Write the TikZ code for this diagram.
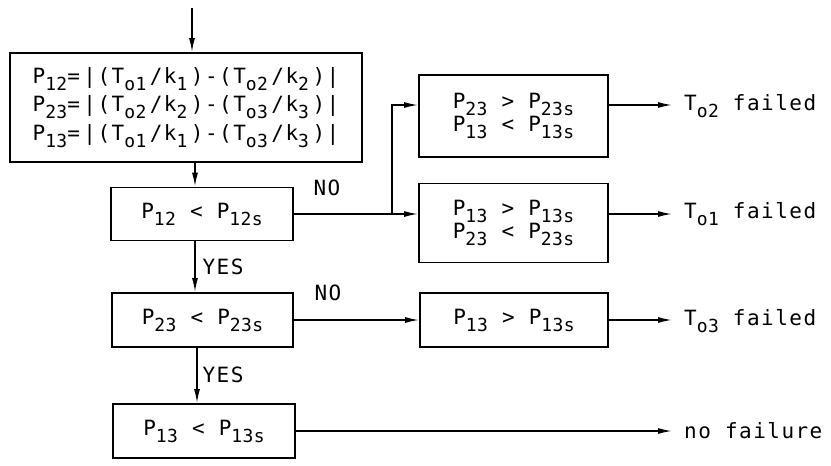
\documentclass[tikz,border=0pt]{standalone}
\usepackage{fontspec}
\setmainfont{DejaVu Sans Mono}[LetterSpace=7]
\newfontfamily\subfont{DejaVu Sans Mono}[LetterSpace=2]
\usetikzlibrary{arrows.meta,calc}
\newcommand\sbs[1]{\raisebox{-7pt}{\subfont\fontsize{18}{18}\selectfont #1}}
\begin{document}
\begin{tikzpicture}[x=1pt,y=-1pt,
  box/.style={draw,line width=1.9pt,inner sep=0pt,font=\fontsize{21}{22}\selectfont},
  lbl/.style={inner sep=0pt,font=\fontsize{21}{22}\selectfont},
  arr/.style={line width=1.5pt,-{Latex[length=14pt,width=6pt]}}]
\useasboundingbox (0,0) rectangle (831,466);
% boxes
\node[box,minimum width=352pt,minimum height=109pt,align=left] (b1) at (186,107.5)
 {P\sbs{12}=\,|(T\sbs{o1}\,/k\sbs{1}\,)-(T\sbs{o2}\,/k\sbs{2}\,)|\\[4pt]
  P\sbs{23}=\,|(T\sbs{o2}\,/k\sbs{2}\,)-(T\sbs{o3}\,/k\sbs{3}\,)|\\[4pt]
  P\sbs{13}=\,|(T\sbs{o1}\,/k\sbs{1}\,)-(T\sbs{o3}\,/k\sbs{3}\,)|};
\node[box,minimum width=182pt,minimum height=53pt] (b2) at (202,214) {P\sbs{12} < P\sbs{12s}};
\node[box,minimum width=181pt,minimum height=54pt] (b3) at (202.5,320) {P\sbs{23} < P\sbs{23s}};
\node[box,minimum width=182pt,minimum height=54pt] (b4) at (204,431) {P\sbs{13} < P\sbs{13s}};
\node[box,minimum width=189pt,minimum height=82pt,align=center] (b5) at (513.5,116)
 {P\sbs{23} > P\sbs{23s}\\P\sbs{13} < P\sbs{13s}};
\node[box,minimum width=189pt,minimum height=79pt,align=center] (b6) at (513.5,223)
 {P\sbs{13} > P\sbs{13s}\\P\sbs{23} < P\sbs{23s}};
\node[box,minimum width=188pt,minimum height=54pt] (b7) at (514,320) {P\sbs{13} > P\sbs{13s}};
% outcome labels
\node[lbl,anchor=west] (t5) at (684,106) {T\sbs{o2} failed};
\node[lbl,anchor=west] (t6) at (684,214) {T\sbs{o1} failed};
\node[lbl,anchor=west] (t7) at (684,321) {T\sbs{o3} failed};
\node[lbl,anchor=west] (t4) at (684,431) {no failure};
% branch labels
\node[lbl] (no1) at (327,188) {NO};
\node[lbl] (no2) at (328,293) {NO};
\node[lbl] (yes1) at (223,267) {YES};
\node[lbl] (yes2) at (223,375) {YES};
% helper coordinates
\coordinate (top) at (192,8);
\coordinate (vx) at (195,0);
\coordinate (vy) at (197,0);
\coordinate (j) at (392,0);
\coordinate (fx) at (672,0);
\coordinate (a5) at ($(b5.west)+(0,-11)$);
\coordinate (e5) at ($(b5.east)+(0,-11)$);
\coordinate (e6) at (b2.east -| b6.east);
% connectors
\draw[arr] (top) -- (top |- b1.north);
\draw[arr] (vx |- b1.south) -- (vx |- b2.north);
\draw[arr] (vx |- b2.south) -- (vx |- b3.north);
\draw[arr] (vy |- b3.south) -- (vy |- b4.north);
\draw[arr] (b2.east) -- (b2.east -| b6.west);
\draw[arr] (j |- b2.east) -- (j |- a5) -- (a5);
\draw[arr] (b3.east) -- (b3.east -| b7.west);
\draw[arr] (e5) -- (e5 -| fx);
\draw[arr] (e6) -- (e6 -| fx);
\draw[arr] (b7.east) -- (b7.east -| fx);
\draw[arr] (b4.east) -- (b4.east -| fx);
\end{tikzpicture}
\end{document}
